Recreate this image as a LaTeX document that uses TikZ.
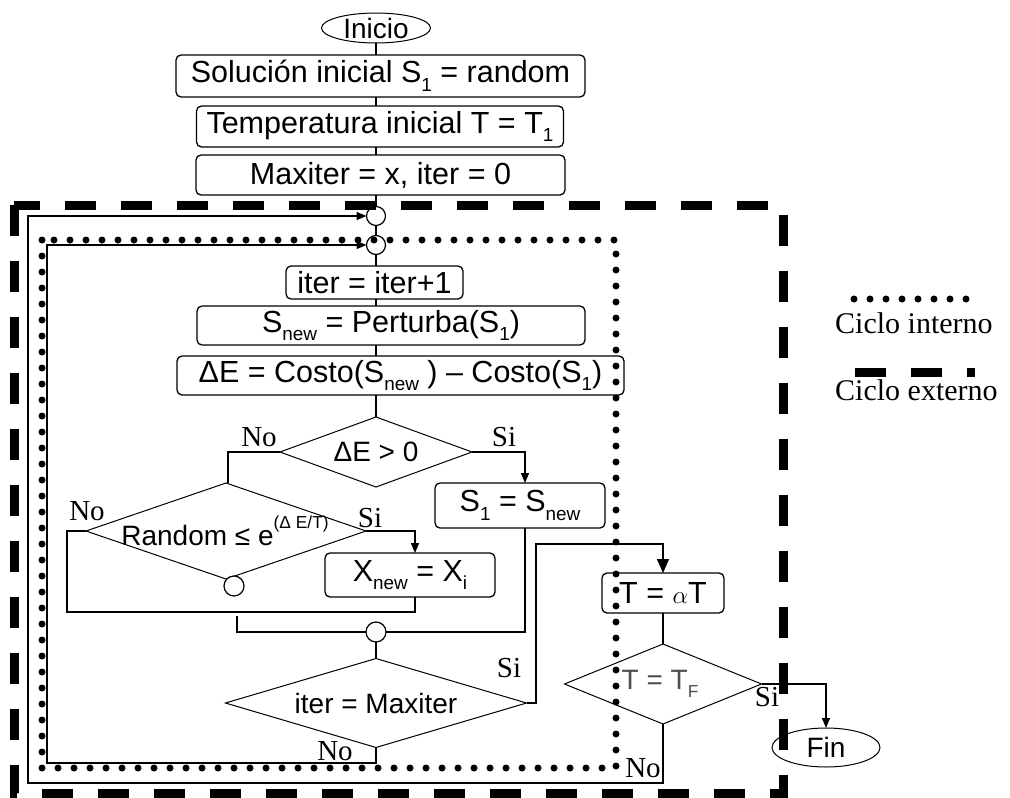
\documentclass[tikz,border=0pt]{standalone}
\usepackage{fontspec}
\setmainfont{Liberation Serif}
\setsansfont{Liberation Sans}
\usetikzlibrary{shapes.geometric,arrows.meta}
% small, slightly lowered subscript as used in the flowchart formulas
\newcommand\sbs[1]{\raisebox{-0.28em}{\scalebox{0.62}{#1}}}
\newcommand\sps[1]{\raisebox{0.62em}{\scalebox{0.62}{#1}}}
\begin{document}
\begin{tikzpicture}[x=1pt,y=-1pt,
  box/.style={draw, rounded corners=5pt, line width=1.3pt, inner sep=0pt, outer sep=0pt,
    font=\sffamily\fontsize{30.5}{32}\selectfont},
  dec/.style={draw, diamond, inner sep=0pt, outer sep=0pt, line width=1pt},
  dtext/.style={font=\sffamily\fontsize{28}{30}\selectfont},
  jn/.style={draw, circle, fill=white, inner sep=0pt, outer sep=0pt, minimum size=20pt, line width=1.2pt},
  term/.style={draw, ellipse, inner sep=0pt, outer sep=0pt, line width=1pt,
    font=\sffamily\fontsize{28}{30}\selectfont},
  lbl/.style={font=\fontsize{29}{30}\selectfont, inner sep=0pt},
  flow/.style={line width=1.3pt},
  arr/.style={flow, -{Triangle[length=10pt,width=8pt]}},
  bigarr/.style={flow, -{Triangle[length=14pt,width=12pt]}},
  loopout/.style={line width=9pt, dash pattern=on 31pt off 25pt},
  loopin/.style={line width=7pt, line cap=round, dash pattern=on 0pt off 16pt}]
\useasboundingbox (0,0) rectangle (1010,798);

% start and initialisation
\node[term, minimum width=109, minimum height=30] (inicio) at (376,28) {Inicio};
\node[box, minimum width=409, minimum height=42] (b1) at (380.5,76) {Solución inicial S\sbs{1} = random};
\node[box, minimum width=367, minimum height=41] (b2) at (380,126.5) {Temperatura inicial T = T\sbs{1}};
\node[box, minimum width=369, minimum height=40] (b3) at (380.5,175) {Maxiter = x, iter = 0};

% junctions of the two loops
\node[jn, minimum size=19pt] (c1) at (376,216) {};
\node[jn, minimum size=19pt] (c2) at (376,245) {};

% inner loop body
\node[box, minimum width=177, minimum height=33] (b4) at (374.5,282.5) {iter = iter+1};
\node[box, minimum width=388, minimum height=39] (b5) at (391,325.5) {S\sbs{new} = Perturba(S\sbs{1})};
\node[box, minimum width=447, minimum height=39] (b6) at (400.5,375.5) {ΔE = Costo(S\sbs{new} ) – Costo(S\sbs{1})};

\node[dec, minimum width=192, minimum height=70] (d1) at (376,452) {};
\node[dtext] at (d1) {ΔE > 0};

\node[dec, minimum width=280, minimum height=96] (d2) at (226,531) {};
\node[dtext] at ([xshift=-1]d2.center) {Random ≤ e\sps{(Δ E/T)}};
\node[jn] (c4) at ([xshift=8,yshift=-7]d2.south) {};

\node[box, minimum width=170, minimum height=45] (b7) at (520,505.5) {S\sbs{1} = S\sbs{new}};
\node[box, minimum width=170, minimum height=44] (b8) at (410,575) {X\sbs{new} = X\sbs{i}};

\node[jn] (c3) at (376,632) {};

\node[dec, minimum width=301, minimum height=89] (d3) at (376,703) {};
\node[dtext] at (d3) {iter = Maxiter};

% outer loop body
\node[box, minimum width=122, minimum height=40] (b9) at (663,593) {T = $\alpha$T};
\node[dec, minimum width=197, minimum height=80] (d4) at (663,684) {};
\node[dtext, text=black!70] at ([xshift=-3]d4.center) {T = T\sbs{F}};
\node[term, minimum width=108, minimum height=39] (fin) at (826,747.5) {Fin};

% branch labels
\node[lbl] at (259,437) {No};
\node[lbl] at (504,437) {Si};
\node[lbl] at (87,511) {No};
\node[lbl] at (370,518) {Si};
\node[lbl] at (509,668) {Si};
\node[lbl] at (335,751) {No};
\node[lbl] at (767,697) {Si};
\node[lbl] at (643,768) {No};

% helper points
\coordinate (m1) at (67,612);
\coordinate (m2) at (237,616);
\coordinate (j1) at (536,544);
\coordinate (i1) at (47,763);
\coordinate (o1) at (28,783);

% main column
\draw[flow] (inicio.south) -- (inicio.south |- b1.north);
\draw[flow] (inicio.south |- b1.south) -- (inicio.south |- b2.north);
\draw[flow] (inicio.south |- b2.south) -- (inicio.south |- b3.north);
\draw[flow] (inicio.south |- b3.south) -- (c1.north);
\draw[flow] (c1.south) -- (c2.north);
\draw[flow] (c2.south) -- (c2.south |- b4.north);
\draw[flow] (c2.south |- b4.south) -- (c2.south |- b5.north);
\draw[flow] (c2.south |- b5.south) -- (c2.south |- b6.north);
\draw[flow] (c2.south |- b6.south) -- (d1.north);

% acceptance test
\draw[flow] (d1.west) -| ([xshift=2]d2.north);
\draw[arr] (d1.east) -| ([xshift=5]b7.north);
\draw[arr] (d2.east) -| ([xshift=5]b8.north);
\draw[flow] (d2.west) -| (m1) -| ([xshift=5]b8.south);
\draw[flow] (m2) |- (c3.west);
\draw[flow] ([xshift=5]b7.south) |- (c3.east);
\draw[flow] (c3.south) -- (d3.north);

% loop exits and returns
\draw[bigarr] (d3.east) -| (j1) -| (b9.north);
\draw[flow] (b9.south) -- (d4.north);
\draw[arr] (d4.east) -| (fin.north);
\draw[arr] (d3.south) |- (i1) |- (c2.west);
\draw[arr] (d4.south) |- (o1) |- (c1.west);

% loop outlines
\draw[loopout] (14,205) rectangle (783,793);
\draw[loopin] (42,240) rectangle (616,768);

% legend
\draw[loopin] (854,299) -- (967,299);
\node[anchor=base west, font=\fontsize{30}{32}\selectfont, inner sep=0pt] (leg1) at (835,333) {Ciclo interno};
\draw[loopout] (855,372) -- (975,372);
\node[anchor=base west, font=\fontsize{30}{32}\selectfont, inner sep=0pt] (leg2) at (835,400) {Ciclo externo};
\end{tikzpicture}
\end{document}
